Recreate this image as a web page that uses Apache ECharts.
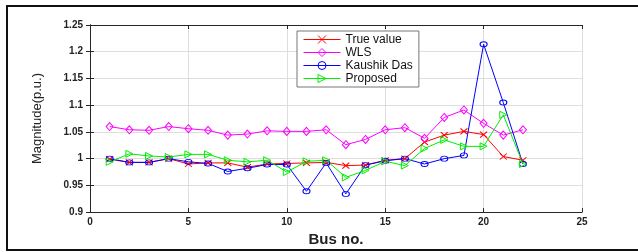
<!DOCTYPE html>
<html>
<head>
<meta charset="utf-8">
<script src="https://cdn.jsdelivr.net/npm/echarts@6/dist/echarts.min.js"></script>
<style>
    html, body { margin: 0; padding: 0; background: #fff; }
    #myChart { width: 638px; height: 252px; }
</style>
</head>
<body>
<div id="myChart"></div>
<script>
    // 数据
    const busNo = [1, 2, 3, 4, 5, 6, 7, 8, 9, 10, 11, 12, 13, 14, 15, 16, 17, 18, 19, 20, 21, 22];
    const trueValue = [0.999, 0.993, 0.993, 1.0, 0.990, 0.992, 0.992, 0.984, 0.990, 0.991, 0.992, 0.993,
        0.987, 0.988, 0.997, 1.0, 1.031, 1.044, 1.051, 1.045, 1.004, 0.997];
    const wls = [1.060, 1.054, 1.053, 1.060, 1.056, 1.053, 1.044, 1.046, 1.052, 1.051, 1.051, 1.054,
        1.026, 1.036, 1.054, 1.058, 1.038, 1.077, 1.091, 1.066, 1.044, 1.054];
    const kaushikDas = [1.0, 0.993, 0.993, 1.0, 0.994, 0.991, 0.976, 0.982, 0.989, 0.989, 0.939, 0.992,
        0.934, 0.988, 0.996, 1.0, 0.990, 1.0, 1.006, 1.214, 1.105, 0.990];
    const proposed = [0.994, 1.009, 1.005, 1.003, 1.008, 1.008, 0.997, 0.994, 0.997, 0.975, 0.995, 0.997,
        0.965, 0.978, 0.995, 0.987, 1.019, 1.035, 1.023, 1.023, 1.082, 0.990];
    const xTicks = [0, 5, 10, 15, 20, 25];
    const yTicks = [0.9, 0.95, 1, 1.05, 1.1, 1.15, 1.2, 1.25];

    const pairs = vals => busNo.map((b, i) => [b, vals[i]]);

    const axisColor = '#262626';
    const gridColor = '#dedede';

    function mkSeries(name, vals, color, symbol, size, rotate) {
        return {
            name: name,
            type: 'line',
            data: pairs(vals),
            symbol: symbol,
            symbolSize: size,
            symbolRotate: rotate || 0,
            showAllSymbol: true,
            color: color,
            lineStyle: { color: color, width: 1 },
            itemStyle: { color: 'none', borderColor: color, borderWidth: 1 },
            emphasis: { disabled: true },
            animation: false
        };
    }

    const series = [
        mkSeries('True value', trueValue, '#ff0000', 'path://M0,0L10,10M10,0L0,10', [7, 6]),
        mkSeries('WLS', wls, '#ff00ff', 'diamond', [7, 8]),
        mkSeries('Kaushik Das', kaushikDas, '#0000ff', 'circle', [7, 5]),
        mkSeries('Proposed', proposed, '#00ee00', 'triangle', 7, -90)
    ];

    const boxAxis = {
        axisLine: { show: true, lineStyle: { color: axisColor, width: 1 } },
        axisTick: { show: true, inside: true, length: 4, lineStyle: { color: axisColor } },
        axisLabel: { show: false },
        splitLine: { show: false }
    };

    let option = {
        backgroundColor: '#fff',
        textStyle: { fontFamily: 'Arial, "Liberation Sans", sans-serif' },
        graphic: [{
            type: 'rect',
            shape: { x: 7, y: 6, width: 650, height: 244 },
            style: { fill: 'none', stroke: '#111', lineWidth: 2 },
            z: 100
        }],
        grid: { left: 90, right: 56, top: 25, bottom: 33 },
        legend: {
            orient: 'vertical',
            left: 297,
            top: 31,
            padding: [2, 6, 2, 6],
            itemGap: 0,
            itemWidth: 37,
            itemHeight: 10,
            backgroundColor: '#fff',
            borderColor: '#777',
            borderWidth: 1,
            borderRadius: 0,
            textStyle: { fontSize: 12, color: '#111' },
            data: series.map(s => ({
                name: s.name,
                itemStyle: { color: 'none', borderColor: s.color, borderWidth: 1 },
                lineStyle: { color: s.color, width: 1 }
            }))
        },
        xAxis: [{
            type: 'value',
            min: 0,
            max: 25,
            interval: 5,
            name: 'Bus no.',
            nameLocation: 'middle',
            nameGap: 19,
            nameTextStyle: { fontSize: 15, fontWeight: 'bold', color: '#222' },
            axisLine: { show: true, onZero: false, lineStyle: { color: axisColor, width: 1 } },
            axisTick: { show: true, inside: true, length: 4, lineStyle: { color: axisColor } },
            axisLabel: {
                fontSize: 10, fontWeight: 'bold', color: '#222', margin: 5,
                formatter: v => xTicks.indexOf(v) >= 0 ? String(v) : ''
            },
            splitLine: { show: true, lineStyle: { color: gridColor, width: 1 } }
        }, Object.assign({
            type: 'value', min: 0, max: 25, interval: 5, position: 'top'
        }, boxAxis)],
        yAxis: [{
            type: 'value',
            min: 0.9,
            max: 1.25,
            interval: 0.05,
            name: 'Magnitude(p.u.)',
            nameLocation: 'middle',
            nameGap: 46,
            nameTextStyle: { fontSize: 13, color: '#222' },
            axisLine: { show: true, onZero: false, lineStyle: { color: axisColor, width: 1 } },
            axisTick: { show: true, inside: true, length: 4, lineStyle: { color: axisColor } },
            axisLabel: {
                fontSize: 10, fontWeight: 'bold', color: '#222', margin: 7,
                formatter: v => {
                    let t = yTicks.find(k => Math.abs(k - v) < 1e-6);
                    return t === undefined ? '' : String(t);
                }
            },
            splitLine: { show: true, lineStyle: { color: gridColor, width: 1 } }
        }, Object.assign({
            type: 'value', min: 0.9, max: 1.25, interval: 0.05, position: 'right'
        }, boxAxis)],
        series: series
    };

    // 初始化
    let myChart = echarts.init(document.getElementById('myChart'));
    myChart.setOption(option);
</script>
</body>
</html>
